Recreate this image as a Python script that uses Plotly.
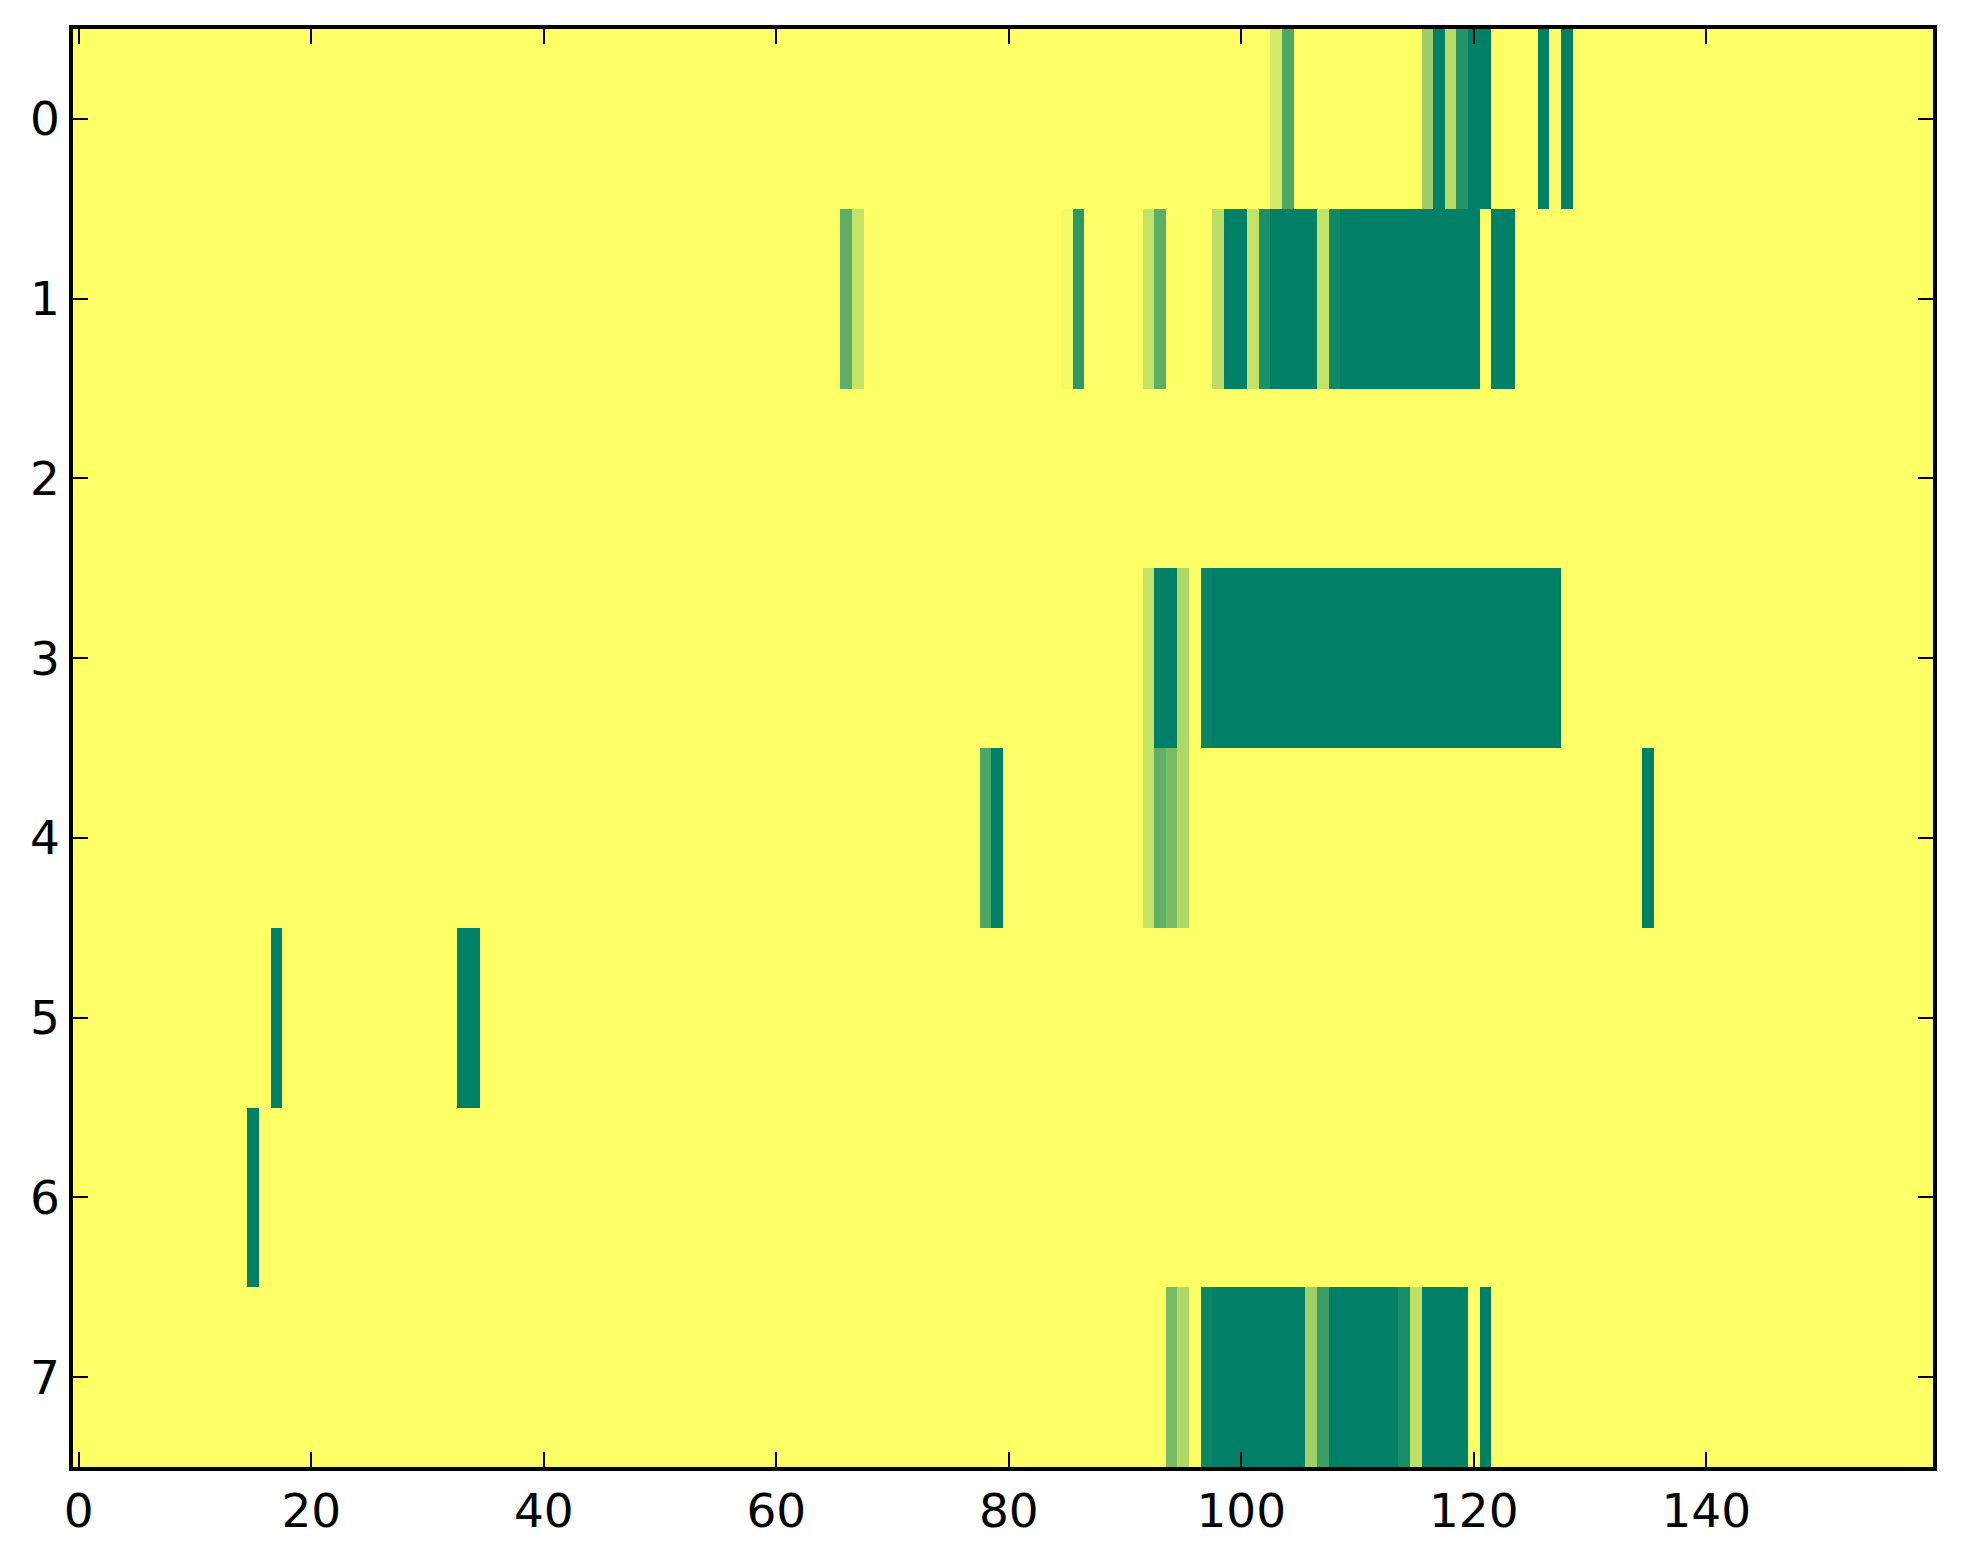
import numpy as np
import plotly.graph_objects as go

# sparse rows: column index -> intensity (0 = yellow, 1 = dark green)
n_rows = 8
n_cols = 160

row0_cols = [103, 104, 116, 117, 118, 119, 120, 121, 126, 128]
row0_vals = [0.17, 0.69, 0.39, 1.0, 0.28, 0.85, 1.0, 1.0, 1.0, 1.0]

row1_cols = [66, 67, 85, 86, 92, 93, 98, 99, 100, 101, 102, 103, 104, 105, 106,
             107, 108] + list(range(109, 121)) + [122, 123]
row1_vals = [0.63, 0.23, 0.04, 0.82, 0.23, 0.63, 0.26, 1.0, 1.0, 0.23, 0.88, 1.0, 1.0, 1.0, 1.0,
             0.23, 0.93] + [1.0] * 12 + [1.0, 1.0]

row2_cols = []
row2_vals = []

row3_cols = [92, 93, 94, 95, 97] + list(range(98, 128))
row3_vals = [0.23, 1.0, 1.0, 0.31, 0.97] + [1.0] * 30

row4_cols = [78, 79, 92, 93, 94, 95, 135]
row4_vals = [0.70, 1.0, 0.23, 0.62, 0.53, 0.31, 1.0]

row5_cols = [17, 33, 34]
row5_vals = [1.0, 1.0, 1.0]

row6_cols = [15]
row6_vals = [1.0]

row7_cols = [94, 95, 97] + list(range(98, 106)) + [106, 107] + list(range(108, 114)) + \
            [114, 115] + list(range(116, 120)) + [121]
row7_vals = [0.53, 0.31, 0.96] + [1.0] * 8 + [0.37, 0.77] + [1.0] * 6 + \
            [0.90, 0.25] + [1.0] * 4 + [1.0]

rows = [(row0_cols, row0_vals), (row1_cols, row1_vals), (row2_cols, row2_vals),
        (row3_cols, row3_vals), (row4_cols, row4_vals), (row5_cols, row5_vals),
        (row6_cols, row6_vals), (row7_cols, row7_vals)]

z = np.zeros((n_rows, n_cols))
for i, (cols, vals) in enumerate(rows):
    for c, v in zip(cols, vals):
        z[i, c] = v

x_ticks = [0, 20, 40, 60, 80, 100, 120, 140]
y_ticks = list(range(n_rows))

# matplotlib "summer_r"
summer_r = [[0.0, 'rgb(255,255,102)'], [1.0, 'rgb(0,128,102)']]

fig = go.Figure(go.Heatmap(
    z=z,
    x=list(range(n_cols)),
    y=list(range(n_rows)),
    colorscale=summer_r,
    zmin=0, zmax=1,
    showscale=False,
))

axis_style = dict(
    showline=True, linecolor='black', linewidth=3.5, mirror='ticks',
    ticks='inside', ticklen=15, tickwidth=2, tickcolor='black',
    showgrid=False, zeroline=False,
    tickfont=dict(family='DejaVu Sans', size=47, color='black'),
)

fig.update_xaxes(range=[-0.5, n_cols - 0.5], tickvals=x_ticks, **axis_style)
fig.update_yaxes(range=[n_rows - 0.5, -0.5], tickvals=y_ticks, **axis_style)

fig.update_layout(
    width=1963, height=1564,
    margin=dict(l=65, r=38, t=21, b=105),
    paper_bgcolor='white', plot_bgcolor='white',
)

fig.write_html("out.html")
